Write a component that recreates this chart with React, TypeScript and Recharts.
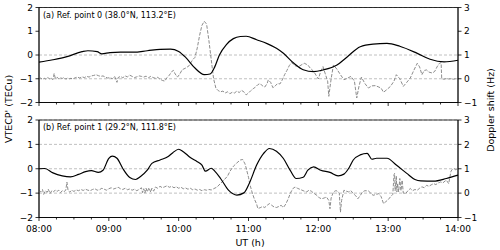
import { LineChart, Line, XAxis, YAxis, CartesianGrid, ReferenceArea } from 'recharts'

// time in minutes after 08:00 UT
const HOUR_LABELS = ['08:00', '09:00', '10:00', '11:00', '12:00', '13:00', '14:00']
const TEC_TICKS = [-2, -1, 0, 1, 2]
const HZ_TICKS = [-1, 0, 1, 2, 3]
const TITLES = ['(a) Ref. point 0 (38.0°N, 113.2°E)', '(b) Ref. point 1 (29.2°N, 111.8°E)']

// panel (a): VTEC' (TECu)
const A_TEC: [number, number][] = [
  [0, -0.3], [12, -0.2], [24, -0.07], [37, 0.14], [42, 0.18], [50, 0.14], [54, 0.05], [61, 0.1],
  [70, 0.12], [81, 0.12], [93, 0.18], [104, 0.24], [113, 0.25], [120, 0.15], [126, -0.1], [134, -0.55],
  [142, -0.83], [147, -0.8], [151, -0.5], [155, 0.0], [161, 0.44], [167, 0.69], [173, 0.78], [178, 0.79],
  [187, 0.64], [196, 0.48], [204, 0.28], [210, 0.07], [219, -0.35], [227, -0.62], [236, -0.7], [244, -0.63],
  [256, -0.42], [265, -0.07], [276, 0.35], [287, 0.46], [299, 0.49], [310, 0.37], [325, 0.07], [336, -0.18],
  [348, -0.29], [360, -0.22],
]

// panel (a): Doppler shift (Hz)
const A_HZ: [number, number][] = [
  [0, 0.0], [1.5, 0.03], [3, -0.03], [4.5, 0.02], [6, -0.02], [7.5, 0.05], [9, 0.0], [10.5, 0.03],
  [12, -0.04], [13, 0.22], [14, 0.02], [15.5, 0.07], [17, -0.01], [18.5, 0.04], [20, 0.01], [21.5, 0.06],
  [23, -0.02], [24.5, 0.03], [26, 0.0], [27.5, 0.02], [29, -0.01], [31, 0.04], [33, 0.07], [35, 0.03],
  [37, 0.08], [39, 0.05], [41, 0.1], [43, 0.07], [45, 0.12], [47, 0.14], [49, 0.17], [51, 0.13],
  [53, 0.1], [55, 0.12], [57, 0.07], [59, 0.03], [61, 0.05], [63, 0.0], [65, 0.1], [67, -0.15],
  [68, 0.05], [70, 0.1], [72, 0.04], [74, 0.12], [76, 0.08], [78, 0.15], [80, 0.1], [82, 0.05],
  [84, 0.08], [86, 0.12], [88, 0.1], [90, 0.07], [92, 0.11], [94, 0.04], [96, 0.1], [98, 0.05],
  [100, 0.02], [102, 0.06], [104, -0.02], [106, -0.07], [108, -0.1], [110, 0.05], [112, 0.15], [114, 0.3],
  [115.5, 0.35], [117, 0.2], [119, 0.07], [121, 0.2], [123, 0.38], [126, 0.45], [129, 0.55], [132, 0.8],
  [134, 0.9], [136, 1.3], [138, 1.83], [140, 2.25], [142, 2.42], [144, 2.3], [146, 1.6], [148, 0.8],
  [150, 0.0], [152, -0.4], [154, -0.5], [156, -0.55], [158, -0.52], [160, -0.6], [162, -0.55], [164, -0.63],
  [166, -0.57], [168, -0.6], [170, -0.52], [172, -0.58], [174, -0.49], [176, -0.55], [178, -0.68], [180, -0.6],
  [182, -0.5], [184, -0.42], [186, -0.35], [188, -0.25], [190, -0.2], [192, -0.3], [194, -0.35], [196, -0.2],
  [197, -0.05], [199, -0.15], [201, -0.38], [203, -0.3], [205, -0.2], [207, -0.22], [209, -0.05], [211, 0.17],
  [213, 0.35], [215, 0.55], [217, 0.68], [220, 0.55], [223, 0.51], [226, 0.6], [228, 0.65], [231, 0.58],
  [233, 0.45], [236, 0.31], [238, 0.15], [240, -0.01], [242, 0.3], [244, 0.51], [246, 0.2], [248, -0.1],
  [249, -0.74], [251, 0.0], [253, 0.58], [256, 0.4], [259, 0.17], [262, -0.04], [265, 0.02], [268, 0.1],
  [271, -0.1], [273, -0.81], [275, -0.3], [277, 0.07], [280, -0.2], [283, -0.39], [286, -0.3], [289, -0.29],
  [292, -0.35], [294, -0.4], [296, -0.57], [299, -0.45], [302, -0.32], [305, -0.1], [307, 0.17], [310, 0.0],
  [313, -0.32], [316, -0.15], [319, 0.03], [322, 0.35], [325, 0.65], [327, 0.5], [329, 0.17], [331, 0.35],
  [333, 0.37], [335, 0.28], [338, 0.24], [340, 0.31], [342, 0.5], [344, 0.65], [345.5, 0.68], [346, 0.0],
  [348, -0.02], [350, 0.01], [352, -0.01], [354, 0.0], [356, -0.02], [358, 0.0], [360, -0.01],
]

// panel (b): VTEC' (TECu)
const B_TEC: [number, number][] = [
  [0, 0.0], [5, 0.01], [12, -0.17], [20, -0.29], [27, -0.33], [34, -0.23], [40, -0.12], [45, -0.08],
  [51, -0.15], [55, -0.06], [60, 0.43], [63, 0.52], [67, 0.43], [72, 0.01], [78, -0.36], [83, -0.44],
  [87, -0.33], [93, -0.06], [97, 0.22], [104, 0.36], [111, 0.5], [115, 0.66], [120, 0.8], [124, 0.7],
  [130, 0.46], [136, 0.29], [140, 0.15], [143, -0.1], [148, 0.02], [151, -0.1], [156, -0.4], [163, -0.89],
  [170, -1.08], [176, -0.99], [181, -0.56], [187, 0.15], [193, 0.63], [198, 0.83], [204, 0.72], [210, 0.42],
  [216, -0.08], [221, -0.4], [227, -0.35], [231, -0.06], [236, 0.08], [242, -0.06], [250, -0.15], [257, -0.29],
  [262, -0.22], [266, 0.01], [270, 0.36], [276, 0.57], [282, 0.63], [286, 0.39], [290, 0.43], [299, 0.43],
  [307, 0.15], [316, -0.19], [323, -0.44], [328, -0.5], [339, -0.51], [350, -0.4], [360, -0.26],
]

// panel (b): Doppler shift (Hz)
const B_HZ: [number, number][] = [
  [0, 0.12], [1.5, 0.05], [3, 0.15], [4, -0.05], [5.5, 0.1], [7, 0.03], [8, 0.16], [9.5, -0.02],
  [11, 0.1], [12.5, 0.05], [14, 0.13], [15.5, 0.07], [17, 0.12], [18.5, 0.02], [20, 0.1], [21.5, 0.06],
  [23, 0.12], [24, 0.45], [25, 0.1], [26.5, 0.04], [28, 0.12], [30, 0.07], [32, 0.13], [34, 0.1],
  [36, 0.15], [38, 0.11], [40, 0.16], [42, 0.12], [44, 0.1], [46, 0.15], [48, 0.18], [50, 0.12],
  [52, 0.14], [54, 0.2], [56, 0.16], [58, 0.12], [60, 0.18], [62, 0.22], [64, 0.17], [66, 0.2],
  [68, 0.24], [70, 0.18], [72, 0.15], [74, 0.2], [76, 0.14], [78, 0.17], [80, 0.12], [82, 0.16],
  [84, 0.1], [86, 0.15], [88, 0.22], [89, 0.02], [90, 0.18], [91, 0.0], [92, 0.2], [93, 0.05],
  [94.5, 0.22], [96, 0.04], [97, 0.2], [98.5, 0.08], [100, 0.25], [102, 0.2], [104, 0.28], [106, 0.22],
  [108, 0.26], [110, 0.3], [112, 0.24], [114, 0.28], [116, 0.22], [118, 0.26], [120, 0.2], [122, 0.24],
  [124, 0.18], [126, 0.21], [128, 0.16], [130, 0.2], [132, 0.14], [134, 0.17], [136, 0.12], [138, 0.15],
  [140, 0.1], [142, 0.14], [144, 0.12], [146, 0.15], [148, 0.13], [150, 0.18], [153, 0.25], [156, 0.4],
  [159, 0.54], [162, 0.7], [164, 0.89], [167, 1.1], [170, 1.24], [173, 1.36], [175, 1.38], [177, 1.2],
  [178, 1.03], [180, 0.65], [181, 0.39], [183, 0.05], [185, -0.24], [187, -0.45], [188, -0.63], [190, -0.6],
  [192, -0.55], [194, -0.59], [196, -0.5], [198, -0.43], [200, -0.5], [202, -0.57], [204, -0.59], [206, -0.55],
  [208, -0.5], [210, -0.59], [212, -0.45], [214, -0.25], [216, 0.0], [218, 0.18], [220, 0.25], [222, 0.2],
  [225, 0.14], [228, 0.08], [230, 0.05], [232, 0.12], [234, 0.08], [236, 0.0], [239, -0.1], [241, -0.2],
  [243, -0.23], [245, -0.2], [247, -0.16], [249, -0.3], [250, -0.64], [251, -0.2], [253, 0.05], [255, 0.1],
  [256, 0.09], [258, 0.0], [259, -0.78], [260, -0.3], [262, 0.12], [264, 0.08], [266, 0.05], [268, 0.1],
  [270, -0.02], [272, -0.1], [274, -0.23], [276, -0.1], [278, 0.05], [280, 0.1], [283, 0.09], [285, 0.0],
  [287, -0.09], [290, -0.05], [292, -0.02], [294, -0.15], [296, -0.43], [298, -0.35], [300, -0.27], [302, -0.15],
  [304, -0.05], [305, 0.75], [305.5, 0.81], [306, 0.1], [307, 0.7], [307.5, 0.05], [308, 0.4], [309, 0.05],
  [310, 0.6], [311, 0.1], [312, 0.53], [313, 0.0], [315, -0.02], [317, 0.1], [319, 0.19], [321, 0.1],
  [323, 0.15], [325, 0.12], [327, 0.2], [329, 0.26], [331, 0.22], [333, 0.32], [335, 0.28], [337, 0.34],
  [339, 0.39], [341, 0.35], [343, 0.42], [345, 0.46], [347, 0.42], [349, 0.5], [350, 0.53], [352, 0.39],
  [353, 0.65], [354, 0.9], [355, 0.97], [357, 1.0], [358, 0.95], [360, 1.01],
]

const TIME_TICKS = Array.from({ length: 25 }, (_, i) => i * 15)
const toRows = (pts: [number, number][]) => pts.map(([t, v]) => ({ t, v }))
const minus = (v: number) => (v < 0 ? `\u2212${-v}` : `${v}`)

function TimeTick(props: any) {
  const { x, y, payload, showLabels } = props
  const major = payload.value % 60 === 0
  return (
    <g>
      <line x1={x} x2={x} y1={y} y2={y + (major ? 3.5 : 2)} stroke="#000" strokeWidth={0.8} />
      {showLabels && major && (
        <text x={x} y={y + 11} dy="0.35em" textAnchor="middle" fontSize={9} fill="#000">
          {HOUR_LABELS[payload.value / 60]}
        </text>
      )}
    </g>
  )
}

function Panel({ tec, hz, height, top, xHeight, showLabels }: any) {
  return (
    <LineChart width={500} height={height} margin={{ top, right: 0, bottom: 0, left: 0 }}>
      <CartesianGrid yAxisId="left" vertical={false} stroke="#b0b0b0" strokeDasharray="3 2" strokeWidth={0.8} />
      <XAxis
        dataKey="t"
        type="number"
        domain={[0, 360]}
        ticks={TIME_TICKS}
        interval={0}
        height={xHeight}
        tickSize={0}
        tickMargin={0}
        tickLine={false}
        axisLine={{ stroke: '#000', strokeWidth: 0.8 }}
        tick={(p: any) => <TimeTick {...p} showLabels={showLabels} />}
      />
      <YAxis
        yAxisId="left"
        domain={[-2, 2]}
        ticks={TEC_TICKS}
        width={39}
        tickSize={3.5}
        tickMargin={2.5}
        tickFormatter={minus}
        tick={{ fill: '#000', fontSize: 9 }}
        tickLine={{ stroke: '#000', strokeWidth: 0.8 }}
        axisLine={{ stroke: '#000', strokeWidth: 0.8 }}
      />
      <YAxis
        yAxisId="right"
        orientation="right"
        domain={[-1, 3]}
        ticks={HZ_TICKS}
        width={42}
        tickSize={3.5}
        tickMargin={2.5}
        tickFormatter={minus}
        tick={{ fill: '#000', fontSize: 9, textAnchor: 'start' }}
        tickLine={{ stroke: '#000', strokeWidth: 0.8 }}
        axisLine={{ stroke: '#000', strokeWidth: 0.8 }}
      />
      <Line
        yAxisId="right"
        data={toRows(hz)}
        dataKey="v"
        type="linear"
        stroke="#808080"
        strokeWidth={0.9}
        strokeDasharray="3.5 1.5"
        dot={false}
        isAnimationActive={false}
      />
      <Line
        yAxisId="left"
        data={toRows(tec)}
        dataKey="v"
        type="monotone"
        stroke="#000"
        strokeWidth={1.2}
        dot={false}
        isAnimationActive={false}
      />
      <ReferenceArea yAxisId="left" x1={0} x2={360} y1={-2} y2={2} fill="none" stroke="#000" strokeWidth={0.8} />
    </LineChart>
  )
}

export default function App() {
  return (
    <div
      style={{
        position: 'absolute',
        left: 0,
        top: 0,
        width: 500,
        height: 250,
        background: '#fff',
        fontFamily: '"DejaVu Sans", sans-serif',
      }}
    >
      <div style={{ position: 'absolute', left: 0, top: 0 }}>
        <Panel tec={A_TEC} hz={A_HZ} height={110.5} top={7.5} xHeight={8} showLabels={false} />
      </div>
      <div style={{ position: 'absolute', left: 0, top: 112 }}>
        <Panel tec={B_TEC} hz={B_HZ} height={138} top={8} xHeight={32.5} showLabels />
      </div>
      <svg width={500} height={250} style={{ position: 'absolute', left: 0, top: 0, pointerEvents: 'none' }}>
        <text x={43} y={18} fontSize={8} fill="#000">{TITLES[0]}</text>
        <text x={43} y={130} fontSize={8} fill="#000">{TITLES[1]}</text>
        <text x={250} y={245.5} fontSize={9.5} textAnchor="middle" fill="#000">UT (h)</text>
        <text transform="translate(11.5,109) rotate(-90)" fontSize={9.5} textAnchor="middle" fill="#000">
          VTECP' (TECu)
        </text>
        <text transform="translate(494,110) rotate(-90)" fontSize={9.5} textAnchor="middle" fill="#000">
          Doppler shift (Hz)
        </text>
      </svg>
    </div>
  )
}
